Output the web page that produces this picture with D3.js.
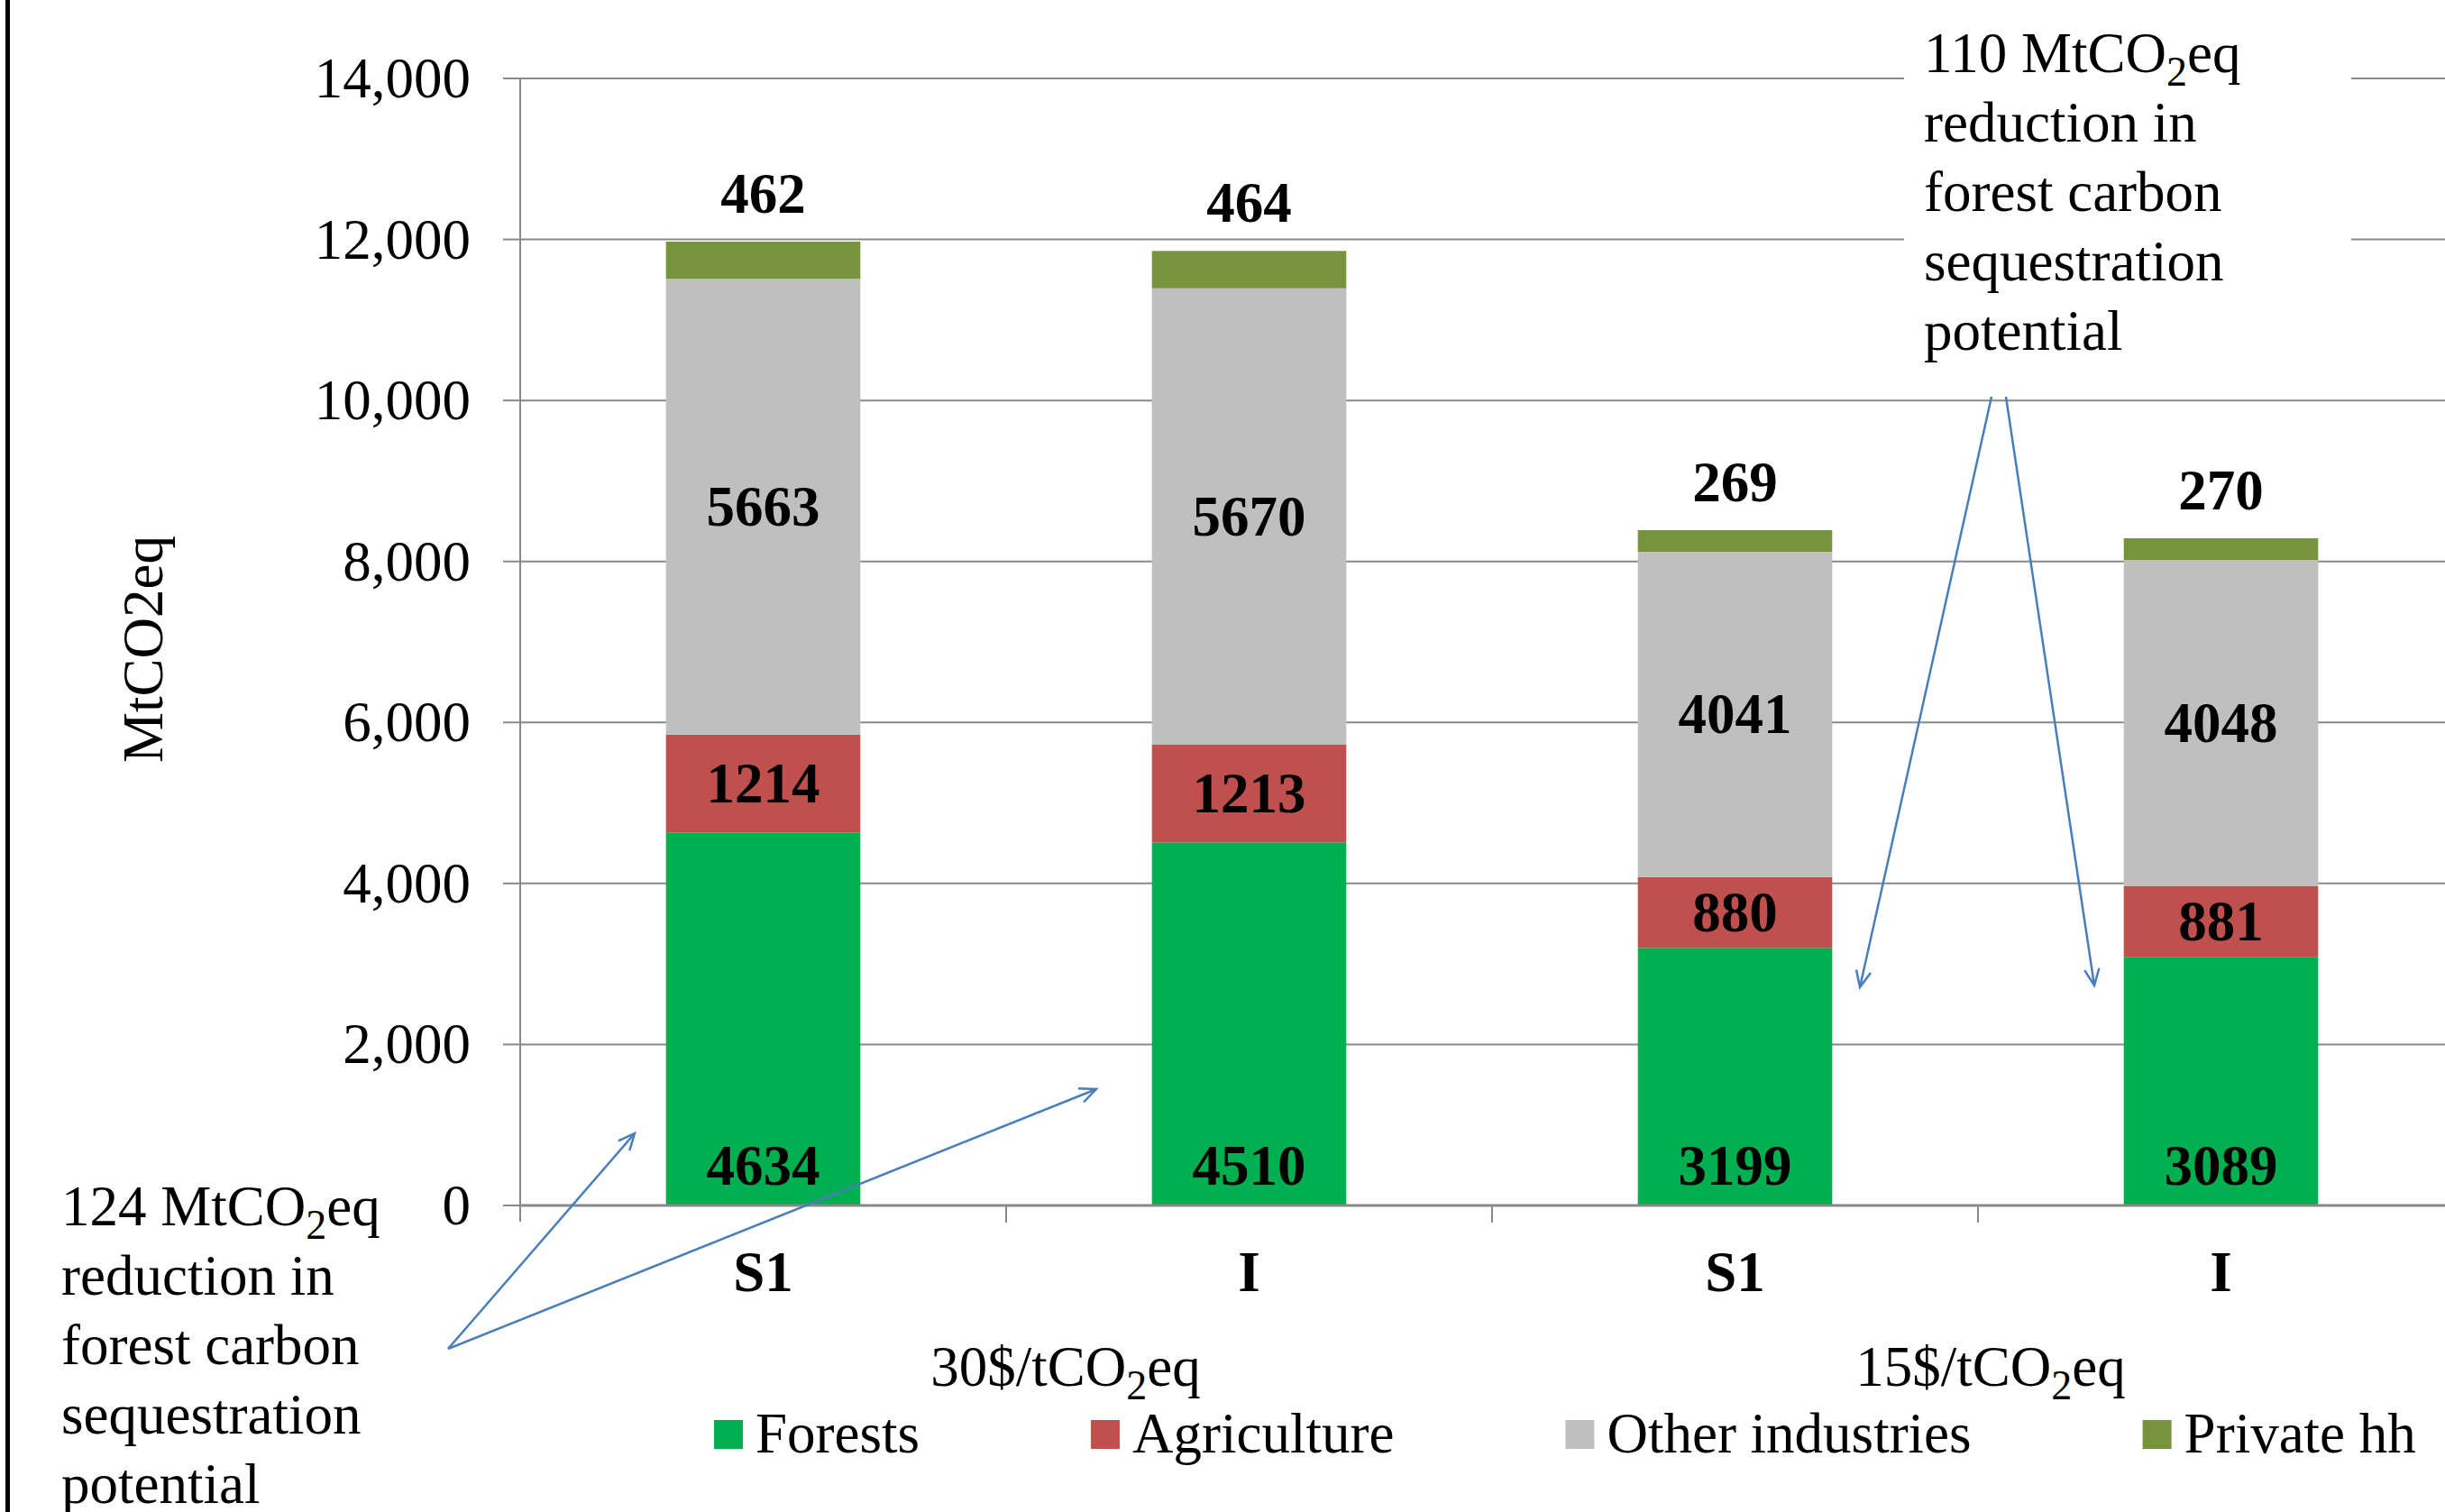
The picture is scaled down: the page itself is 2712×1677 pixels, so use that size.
<!DOCTYPE html>
<html>
<head>
<meta charset="utf-8">
<script src="https://cdn.jsdelivr.net/npm/d3@7"></script>
<style>
  body { margin: 0; background: #fff; }
  svg { display: block; font-family: "Liberation Serif", "Times New Roman", serif; }
</style>
</head>
<body>
<svg width="2712" height="1677"></svg>
<script>
var categories = ["S1", "I", "S1", "I"],
    groups = ["30$/tCO", "15$/tCO"],
    seriesNames = ["Forests", "Agriculture", "Other industries", "Private hh"],
    forests = [4634, 4510, 3199, 3089],
    agriculture = [1214, 1213, 880, 881],
    otherInd = [5663, 5670, 4041, 4048],
    privateHh = [462, 464, 269, 270],
    yTicks = [0, 2000, 4000, 6000, 8000, 10000, 12000, 14000],
    colors = ["#00B050", "#C0504D", "#BFBFBF", "#77933C"];

var svg = d3.select("svg"),
    W = 2712, H = 1677,
    plotL = 577, plotR = 2733, plotT = 87, plotB = 1337,
    fs = 63;

var x = d3.scaleBand().domain(d3.range(categories.length))
    .range([plotL, plotR]).paddingInner(0.6).paddingOuter(0.3);
var y = d3.scaleLinear().domain([0, 14000]).range([plotB, plotT]);
var step = x.step();

// stack
var rows = categories.map(function(c, i){
  return {cat: c, f: forests[i], a: agriculture[i], o: otherInd[i], p: privateHh[i]};
});
var stack = d3.stack().keys(["f", "a", "o", "p"])(rows);

// frame line on left
svg.append("rect").attr("x", 6).attr("y", 0).attr("width", 5).attr("height", H).attr("fill", "#000");

// gridlines
svg.append("g").selectAll("line").data(yTicks.slice(1)).enter().append("line")
  .attr("x1", plotL).attr("x2", W)
  .attr("y1", function(d){ return y(d); }).attr("y2", function(d){ return y(d); })
  .attr("stroke", "#898989").attr("stroke-width", 2);

// y axis
svg.append("line").attr("x1", plotL).attr("x2", plotL).attr("y1", plotT).attr("y2", plotB + 18)
  .attr("stroke", "#898989").attr("stroke-width", 2);
svg.append("g").selectAll("line").data(yTicks).enter().append("line")
  .attr("x1", plotL - 19).attr("x2", plotL)
  .attr("y1", function(d){ return y(d); }).attr("y2", function(d){ return y(d); })
  .attr("stroke", "#898989").attr("stroke-width", 2);
svg.append("g").selectAll("text").data(yTicks).enter().append("text")
  .attr("x", 522).attr("y", function(d){ return y(d) + 21; })
  .attr("text-anchor", "end").attr("font-size", fs)
  .text(function(d){ return d3.format(",")(d); });

// bars
var layer = svg.append("g").selectAll("g").data(stack).enter().append("g")
  .attr("fill", function(d, i){ return colors[i]; });
layer.selectAll("rect").data(function(d){ return d; }).enter().append("rect")
  .attr("x", function(d, i){ return x(i); })
  .attr("width", x.bandwidth())
  .attr("y", function(d){ return y(d[1]); })
  .attr("height", function(d){ return y(d[0]) - y(d[1]); });

// x axis
svg.append("line").attr("x1", plotL).attr("x2", W).attr("y1", plotB).attr("y2", plotB)
  .attr("stroke", "#898989").attr("stroke-width", 3);
svg.append("g").selectAll("line").data(d3.range(1, categories.length)).enter().append("line")
  .attr("x1", function(i){ return plotL + i * step; }).attr("x2", function(i){ return plotL + i * step; })
  .attr("y1", plotB).attr("y2", plotB + 19)
  .attr("stroke", "#898989").attr("stroke-width", 2);

// data labels
var lab = svg.append("g").attr("font-weight", "bold").attr("font-size", fs).attr("text-anchor", "middle");
stack.forEach(function(s, k){
  s.forEach(function(d, i){
    var cx = x(i) + x.bandwidth() / 2, ty;
    var v = d[1] - d[0];
    if (k === 0) ty = y(0) - 23;
    else if (k === 3) ty = y(d[1]) - 32;
    else ty = (y(d[0]) + y(d[1])) / 2 + 21;
    lab.append("text").attr("x", cx).attr("y", ty).text(v);
  });
});

// category labels
svg.append("g").selectAll("text").data(categories).enter().append("text")
  .attr("x", function(d, i){ return x(i) + x.bandwidth() / 2; })
  .attr("y", 1432).attr("text-anchor", "middle")
  .attr("font-weight", "bold").attr("font-size", fs).text(function(d){ return d; });

// group labels
var nudge = [66, 14];
groups.forEach(function(g, j){
  var t = svg.append("text").attr("x", plotL + (2 * j + 1) * step + nudge[j]).attr("y", 1537)
    .attr("text-anchor", "middle").attr("font-size", fs);
  t.append("tspan").text(g);
  t.append("tspan").attr("font-size", 46).attr("dy", 15).text("2");
  t.append("tspan").attr("dy", -15).text("eq");
});

// axis title
svg.append("text").attr("transform", "translate(180,720) rotate(-90)")
  .attr("text-anchor", "middle").attr("font-size", fs).text("MtCO2eq");

// legend
var lx = 792;
seriesNames.forEach(function(n, i){
  svg.append("rect").attr("x", lx).attr("y", 1575).attr("width", 32).attr("height", 32).attr("fill", colors[i]);
  var t = svg.append("text").attr("x", lx + 46).attr("y", 1611).attr("font-size", fs).text(n);
  lx += 46 + t.node().getComputedTextLength() + 190;
});

// annotations
function noteText(x0, y0, first) {
  var lines = ["reduction in", "forest carbon", "sequestration", "potential"];
  var t = svg.append("text").attr("x", x0).attr("y", y0).attr("font-size", fs);
  t.append("tspan").text(first + " MtCO");
  t.append("tspan").attr("font-size", 46).attr("dy", 15).text("2");
  t.append("tspan").attr("dy", -15).text("eq");
  lines.forEach(function(l, i){
    svg.append("text").attr("x", x0).attr("y", y0 + 77 * (i + 1)).attr("font-size", fs).text(l);
  });
}
function arrow(x1, y1, x2, y2) {
  var g = svg.append("g").attr("stroke", "#4A7EBB").attr("stroke-width", 2.5).attr("fill", "none");
  g.append("line").attr("x1", x1).attr("y1", y1).attr("x2", x2).attr("y2", y2);
  var a = Math.atan2(y2 - y1, x2 - x1), L = 20, sp = 0.42;
  g.append("path").attr("d", "M" + (x2 - L * Math.cos(a - sp)) + "," + (y2 - L * Math.sin(a - sp)) +
    "L" + x2 + "," + y2 + "L" + (x2 - L * Math.cos(a + sp)) + "," + (y2 - L * Math.sin(a + sp)));
}

svg.append("rect").attr("x", 2112).attr("y", 0).attr("width", 496).attr("height", 425).attr("fill", "#fff");
noteText(2134, 80, "110");
noteText(68, 1359, "124");

arrow(497, 1496, 704, 1257);
arrow(497, 1496, 1216, 1208);
arrow(2209, 440, 2063, 1095);
arrow(2225, 440, 2323, 1093);
</script>
</body>
</html>
